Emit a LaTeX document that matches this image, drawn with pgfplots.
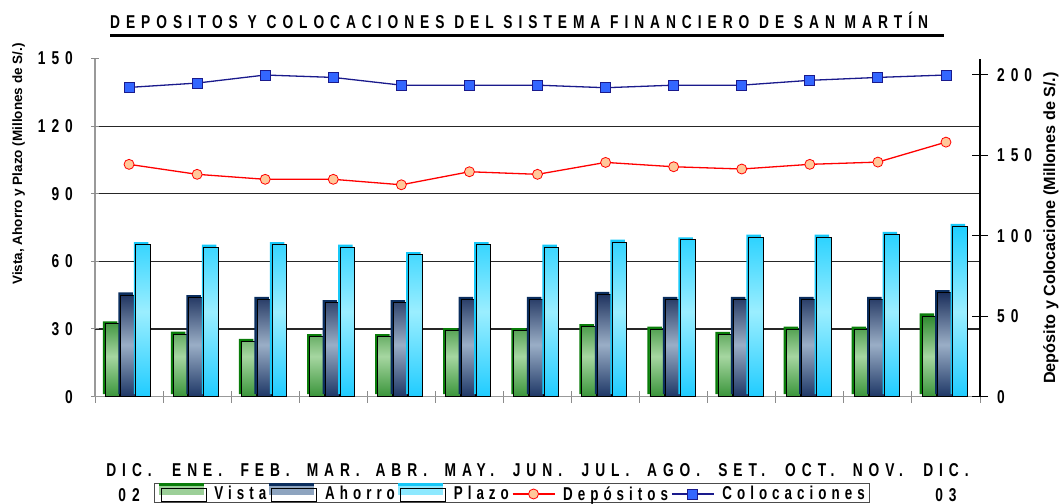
\documentclass[border=0pt]{standalone}
\usepackage{fontspec}
\setmainfont{Liberation Sans}
\newfontfamily\cfont[FakeStretch=0.74,LetterSpace=32]{Liberation Sans Bold}
\newfontfamily\lfont[FakeStretch=0.72,LetterSpace=27]{Liberation Sans Bold}
\newcommand\chfont{\cfont\fontsize{18.6bp}{22bp}\selectfont}
\newcommand\legfont{\lfont\fontsize{18.6bp}{20bp}\selectfont}
\usepackage{pgfplots}
\pgfplotsset{compat=1.18}
\usepackage{pgfplotstable}

\definecolor{vshadow}{HTML}{0A7D0A}
\definecolor{vtop}{HTML}{2F8A2F}
\definecolor{vmid}{HTML}{A6D6A1}
\definecolor{vbot}{HTML}{3A953A}
\definecolor{ashadow}{HTML}{0B2E5E}
\definecolor{atop}{HTML}{1B2F5C}
\definecolor{amid}{HTML}{9AAEC6}
\definecolor{abot}{HTML}{1E3766}
\definecolor{pshadow}{HTML}{16C8F8}
\definecolor{ptop}{HTML}{1ECFFF}
\definecolor{pmid}{HTML}{9BEEFF}
\definecolor{pbot}{HTML}{20CCFF}
\definecolor{vleg}{HTML}{9CCF98}
\definecolor{aleg}{HTML}{8EA4BF}
\definecolor{pleg}{HTML}{8EE9FF}
\definecolor{peach}{HTML}{FFC89A}
\definecolor{navyl}{HTML}{1A1A8C}
\definecolor{sqblue}{HTML}{3366FF}

\pgfplotsset{
  mylineleg/.style={legend image code/.code={
    \draw[mark repeat=2, mark phase=2, ##1] plot coordinates {(0bp,0bp) (21bp,0bp) (42bp,0bp)};}},
  mybarleg/.style n args={2}{legend image code/.code={
    \fill[#1] (0bp,-1bp) rectangle (44bp,8bp);
    \fill[#2] (0bp,8bp) rectangle (44bp,10bp);
    \draw[black, line width=0.8bp] (2bp,-7bp) rectangle (47bp,6bp);}},
}

\pgfplotstableread{
x vista ahorro plazo dep col
0  32.3 45.1 67.4 144.3 192.1
1  27.7 43.9 66.3 138.1 194.8
2  24.5 43.2 67.4 135.0 199.8
3  26.6 41.7 66.3 135.0 198.3
4  26.6 41.7 63.0 131.6 193.5
5  29.3 43.2 67.4 139.7 193.5
6  29.3 43.2 66.3 138.1 193.5
7  31.0 45.4 68.5 145.5 191.9
8  29.9 43.2 69.6 142.8 193.5
9  27.6 43.2 70.8 141.4 193.5
10 29.9 43.2 70.8 144.3 196.5
11 29.9 43.2 72.0 145.7 198.3
12 35.8 46.1 75.5 158.1 199.8
}\datatable

\begin{document}
\begin{tikzpicture}
\path[use as bounding box] (0,0) rectangle (1060bp,504bp);

% title
\node[anchor=base west, font=\chfont, inner sep=0pt] at (110bp,475.7bp)
  {DEPOSITOS Y COLOCACIONES DEL SISTEMA FINANCIERO DE SAN MARTÍN};
\draw[line width=3.5bp] (110bp,468.7bp) -- (944bp,468.7bp);

% axis titles
\node[rotate=90, anchor=base, inner sep=0pt, font=\bfseries\fontsize{13.5bp}{16bp}\selectfont]
  at (22bp,340bp) {Vista, Ahorro y Plazo (Millones de S/.)};
\node[rotate=90, anchor=base, inner sep=0pt, font=\bfseries\fontsize{16.2bp}{20bp}\selectfont]
  at (1055bp,276bp) {Depósito y Colocacione (Millones de S/.)};

\begin{axis}[
  at={(95bp,107.4bp)}, anchor=south west, scale only axis,
  width=885bp, height=338bp,
  xmin=-0.5, xmax=12.5, ymin=0, ymax=150,
  axis x line*=bottom, axis y line*=left,
  axis line style={draw=black!40, line width=1.5bp},
  xtick={0,...,12},
  xticklabels={DIC.,ENE.,FEB.,MAR.,ABR.,MAY.,JUN.,JUL.,AGO.,SET.,OCT.,NOV.,DIC.},
  minor xtick={-0.5,0.5,...,12.5},
  major x tick style={draw=none},
  minor x tick style={draw=black!45, line width=1bp},
  minor tick length=12bp,
  tick align=center,
  major tick length=8bp,
  major y tick style={draw=black!45, line width=1bp},
  xticklabel style={font=\chfont, anchor=base, inner sep=0pt, yshift=-76bp},
  ytick={0,30,...,150},
  yticklabel style={font=\chfont, anchor=east, inner sep=0pt, xshift=-18bp},
  /pgf/number format/assume math mode=true,
  extra y ticks={30,60,90,120},
  extra y tick labels={},
  extra y tick style={grid=major},
  major grid style={draw=black!85, line width=1.2bp},
  clip=false,
]
% Vista
\addplot[ybar, bar width=14.5bp, bar shift=-19bp, fill=vshadow, draw=none, yshift=2.5bp, forget plot]
  table[x=x,y=vista]{\datatable};
\addplot[ybar, bar width=14.5bp, bar shift=-16.5bp, draw=black, line width=0.8bp,
  top color=vtop, bottom color=vbot, middle color=vmid, forget plot]
  table[x=x,y=vista]{\datatable};
% Ahorro
\addplot[ybar, bar width=14.5bp, bar shift=-3.5bp, fill=ashadow, draw=none, yshift=2.5bp, forget plot]
  table[x=x,y=ahorro]{\datatable};
\addplot[ybar, bar width=14.5bp, bar shift=-1bp, draw=black, line width=0.8bp,
  top color=atop, bottom color=abot, middle color=amid, forget plot]
  table[x=x,y=ahorro]{\datatable};
% Plazo
\addplot[ybar, bar width=14.5bp, bar shift=12bp, fill=pshadow, draw=none, yshift=2.5bp, forget plot]
  table[x=x,y=plazo]{\datatable};
\addplot[ybar, bar width=14.5bp, bar shift=14bp, draw=black, line width=0.8bp,
  top color=ptop, bottom color=pbot, middle color=pmid, forget plot]
  table[x=x,y=plazo]{\datatable};

\node[font=\chfont, anchor=base, inner sep=0pt] at ([yshift=-105bp]axis cs:0,0) {02};
\node[font=\chfont, anchor=base, inner sep=0pt] at ([yshift=-105bp]axis cs:12,0) {03};
\end{axis}

\begin{axis}[
  at={(95bp,107.4bp)}, anchor=south west, scale only axis,
  width=885bp, height=338bp,
  xmin=-0.5, xmax=12.5, ymin=0, ymax=210,
  axis x line=none, axis y line*=right,
  axis line style={draw=black, line width=1.2bp},
  ytick={0,50,...,200},
  tick align=center, major tick length=16bp,
  major y tick style={draw=black, line width=1bp},
  yticklabel style={font=\chfont, anchor=west, inner sep=0pt, xshift=9bp},
  /pgf/number format/assume math mode=true,
  clip=false,
  legend columns=5,
  legend cell align=left,
  legend style={at={(axis description cs:0.0667,-0.2556)}, anchor=north west,
    draw=black!70, line width=1bp, font=\legfont,
    inner xsep=4bp, inner ysep=0bp,
    nodes={inner sep=1bp},
    /tikz/every even column/.append style={column sep=2bp},
    /tikz/every odd column/.append style={column sep=7bp}},
]
\addlegendimage{mybarleg={vleg}{vshadow}}
\addlegendentry{Vista}
\addlegendimage{mybarleg={aleg}{ashadow}}
\addlegendentry{Ahorro}
\addlegendimage{mybarleg={pleg}{pshadow}}
\addlegendentry{Plazo}

\addplot[red, line width=1.3bp, mark=*, mark size=5bp,
  mark options={fill=peach, draw=red, line width=0.8bp}, mylineleg]
  table[x=x,y=dep]{\datatable};
\addlegendentry{Depósitos}
\addplot[navyl, line width=1.3bp, mark=square*, mark size=5bp,
  mark options={fill=sqblue, draw=navyl, line width=0.8bp}, mylineleg]
  table[x=x,y=col]{\datatable};
\addlegendentry{Colocaciones}
\end{axis}
\end{tikzpicture}
\end{document}
